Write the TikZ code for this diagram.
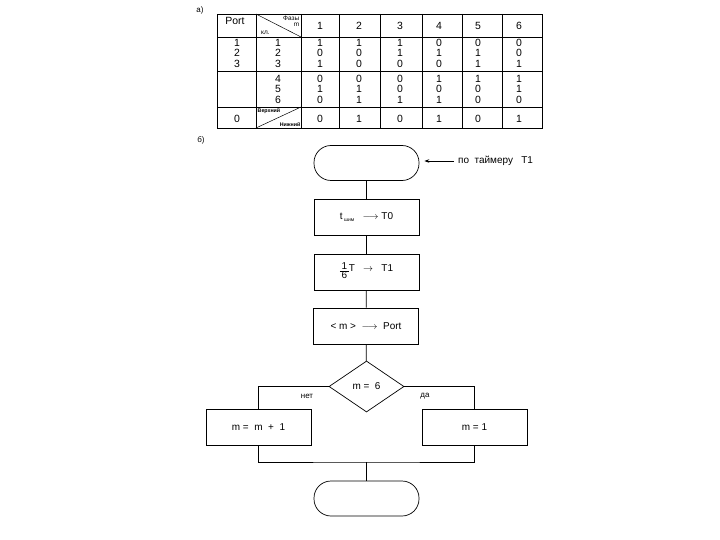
\documentclass[tikz,border=0pt]{standalone}
\usepackage{fontspec}
\setmainfont{Liberation Sans}
\usetikzlibrary{shapes.geometric,arrows.meta}
\begin{document}
\begin{tikzpicture}[x=1bp,y=-1bp,
  every node/.style={inner sep=0pt,font=\fontsize{10}{11}\selectfont},
  tline/.style={line width=0.8bp,black},
  fline/.style={line width=0.7bp,black},
  cell/.style={align=center,font=\fontsize{10.5}{10.5}\selectfont},
  tiny/.style={font=\fontsize{6.5}{7}\selectfont},
  tinyb/.style={font=\bfseries\fontsize{5.3}{6}\selectfont},
  term/.style={draw,line width=0.7bp,minimum width=105bp,minimum height=35bp,rounded corners=17bp},
  proc/.style={draw,line width=0.7bp,minimum width=105bp,minimum height=36bp},
  dec/.style={draw,diamond,line width=0.7bp,minimum width=75bp,minimum height=51bp,inner sep=0pt},
  lbl/.style={font=\fontsize{8}{9}\selectfont}]
\useasboundingbox (0,0) rectangle (720,540);

% labels
\node[lbl] (la) at (200,10) {а)};
\node[lbl] (lb) at (201,140) {б)};

% ---------- table ----------
\draw[tline] (217,14) rectangle (542,128);
\foreach \x in {256,301,339,380,422,462,502} \draw[tline] (\x,14) -- (\x,128);
\foreach \y in {37,71,107} \draw[tline] (217,\y) -- (542,\y);
% diagonal cells
\draw[line width=0.5bp] (256,14) -- (301,37);
\draw[line width=0.5bp] (256,128) -- (301,107);
\node[tiny,anchor=north east] (hfaz) at (299.5,15.5) {Фазы};
\node[tiny,anchor=north east] (hm) at (299.5,23) {m};
\node[tiny,anchor=south west] (hkl) at (261,34.5) {кл.};
\node[tinyb,anchor=north west] (hver) at (257.5,108) {Верхний};
\node[tinyb,anchor=south east] (hniz) at (300.5,127) {Нижний};
\node[cell] (hport) at (235,20.5) {Port};
% header numbers
\foreach \n/\x in {1/320,2/359,3/400,4/439,5/478,6/519}
  \node[cell] (h\n) at (\x,25.5) {\n};
% group 1
\node[cell] (p1) at (237,53) {1\\2\\3};
\node[cell] (k1) at (278,53) {1\\2\\3};
\node[cell] (g11) at (320,53) {1\\0\\1};
\node[cell] (g12) at (359,53) {1\\0\\0};
\node[cell] (g13) at (400,53) {1\\1\\0};
\node[cell] (g14) at (439,53) {0\\1\\0};
\node[cell] (g15) at (478,53) {0\\1\\1};
\node[cell] (g16) at (519,53) {0\\0\\1};
% group 2
\node[cell] (k2) at (278,89) {4\\5\\6};
\node[cell] (g21) at (320,89) {0\\1\\0};
\node[cell] (g22) at (359,89) {0\\1\\1};
\node[cell] (g23) at (400,89) {0\\0\\1};
\node[cell] (g24) at (439,89) {1\\0\\1};
\node[cell] (g25) at (478,89) {1\\0\\0};
\node[cell] (g26) at (519,89) {1\\1\\0};
% last row
\node[cell] (p3) at (237,118.5) {0};
\foreach \n/\x/\v in {1/320/0,2/359/1,3/400/0,4/439/1,5/478/0,6/519/1}
  \node[cell] (r\n) at (\x,118.5) {\v};

% ---------- flowchart ----------
\node[term] (t1) at (366.5,163) {};
\node[proc] (b1) at (366.5,217) {t\raisebox{-0.4ex}{\fontsize{5}{5}\selectfont\ шим}\ \ \ $\longrightarrow$\ T0};
\node[proc] (b2) at (366.5,272) {\begin{tabular}[c]{@{}c@{}}\underline{\,1\,}\\[-2pt]6\end{tabular}\raisebox{0.6ex}{T\ \ \ $\rightarrow$\ \ \ T1}};
\node[proc] (b3) at (366,326) {< m >\ \ $\longrightarrow$\ \ Port};
\node[dec] (d) at (366.5,386.5) {m =\ \ 6};
\node[proc] (bl) at (258.5,427) {m =\ \ m\ \ +\ \ 1};
\node[proc] (br) at (474.5,427) {m = 1};
\node[term] (t2) at (366.5,498.5) {};
\coordinate (j) at (366.5,462);
\node[anchor=west] (timer) at (458,161) {по\ \ таймеру\ \ \ T1};
\node[lbl] (net) at (307,396) {нет};
\node[lbl] (da) at (425,396) {да};

\draw[fline] (t1) -- (b1);
\draw[fline] (b1) -- (b2);
\draw[fline] (b2) -- (b3);
\draw[fline] (b3) -- (d);
\draw[fline] (d.west) -| (bl.north);
\draw[fline] (d.east) -| (br.north);
\draw[fline] (bl.south) |- (j) -| (br.south);
\draw[fline] (j) -- (t2);
\draw[fline,-{Stealth[length=5bp,width=3.5bp]}] ([xshift=-4bp]timer.west) -- ([xshift=5bp]timer.west -| t1.east);
\end{tikzpicture}
\end{document}
